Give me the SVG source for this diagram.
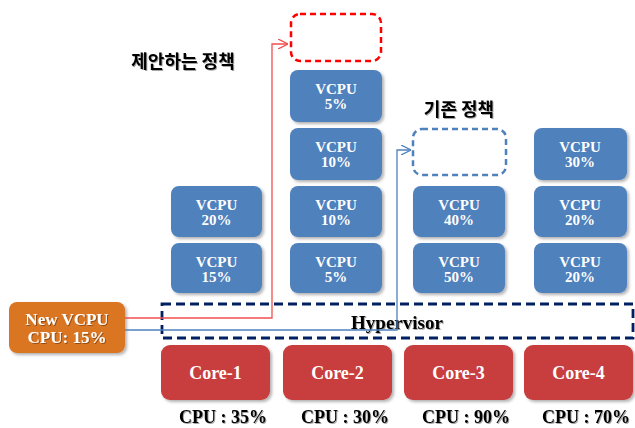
<svg xmlns="http://www.w3.org/2000/svg" width="635" height="428" viewBox="0 0 635 428">
<defs>
<filter id="sh" x="-10%" y="-10%" width="130%" height="140%"><feDropShadow dx="2" dy="2" stdDeviation="1.5" flood-color="#000" flood-opacity="0.3"/></filter>
<filter id="ts" x="-5%" y="-20%" width="110%" height="150%"><feDropShadow dx="1" dy="1" stdDeviation="0.6" flood-color="#000" flood-opacity="0.35"/></filter>
<marker id="ar" viewBox="0 0 10 10" refX="10" refY="5" markerWidth="10" markerHeight="10" markerUnits="userSpaceOnUse" orient="auto"><path d="M0,0 L10,5 L0,10" fill="none" stroke="#F05050" stroke-width="1.3"/></marker>
<marker id="ab" viewBox="0 0 10 10" refX="10" refY="5" markerWidth="10" markerHeight="10" markerUnits="userSpaceOnUse" orient="auto"><path d="M0,0 L10,5 L0,10" fill="none" stroke="#4F81BD" stroke-width="1.3"/></marker>
</defs>
<style>
.v{fill:#4F81BD;filter:url(#sh)}
.vt{font-family:"Liberation Serif",serif;font-weight:bold;font-size:15px;fill:#fff;text-anchor:middle}
.c{fill:#C83C3C;filter:url(#sh)}
.ct{font-family:"Liberation Serif",serif;font-weight:bold;font-size:18px;fill:#fff;text-anchor:middle}
.cl{font-family:"Liberation Serif",serif;font-weight:bold;font-size:18px;fill:#000;text-anchor:middle;filter:url(#ts)}
.kt{font-family:"Noto Sans CJK KR",sans-serif;font-weight:bold;font-size:18px;fill:#000;text-anchor:middle;filter:url(#ts)}
</style>
<rect width="635" height="428" fill="#fff"/>
<g id="label-proposed"><text class="kt" x="183" y="68">제안하는 정책</text></g>
<g id="label-existing"><text class="kt" x="459" y="116">기존 정책</text></g>
<g id="slot-proposed"><rect x="291" y="14" width="90" height="47" rx="9" fill="none" stroke="#FF0000" stroke-width="2.5" stroke-dasharray="6,4"/></g>
<g id="slot-existing"><rect x="413" y="129" width="93" height="46" rx="9" fill="none" stroke="#4F81BD" stroke-width="2.5" stroke-dasharray="6,4"/></g>
<g id="hypervisor"><rect x="162" y="304" width="471" height="34" fill="none" stroke="#002060" stroke-width="2.8" stroke-dasharray="9,5"/><text x="397" y="329" font-family="Liberation Serif,serif" font-weight="bold" font-size="19" text-anchor="middle" filter="url(#ts)">Hypervisor</text></g>
<g id="vcpu-1a"><rect class="v" x="171" y="186" width="91" height="51" rx="8"/><text class="vt" x="216.5" y="210">VCPU</text><text class="vt" x="216.5" y="225">20%</text></g>
<g id="vcpu-1b"><rect class="v" x="171" y="243" width="91" height="50" rx="8"/><text class="vt" x="216.5" y="267">VCPU</text><text class="vt" x="216.5" y="282">15%</text></g>
<g id="vcpu-2a"><rect class="v" x="290" y="70" width="92" height="52" rx="8"/><text class="vt" x="336" y="94">VCPU</text><text class="vt" x="336" y="109">5%</text></g>
<g id="vcpu-2b"><rect class="v" x="290" y="128" width="92" height="52" rx="8"/><text class="vt" x="336" y="152">VCPU</text><text class="vt" x="336" y="167">10%</text></g>
<g id="vcpu-2c"><rect class="v" x="290" y="186" width="92" height="51" rx="8"/><text class="vt" x="336" y="210">VCPU</text><text class="vt" x="336" y="225">10%</text></g>
<g id="vcpu-2d"><rect class="v" x="290" y="243" width="92" height="50" rx="8"/><text class="vt" x="336" y="267">VCPU</text><text class="vt" x="336" y="282">5%</text></g>
<g id="vcpu-3a"><rect class="v" x="413" y="186" width="92" height="51" rx="8"/><text class="vt" x="459" y="210">VCPU</text><text class="vt" x="459" y="225">40%</text></g>
<g id="vcpu-3b"><rect class="v" x="413" y="243" width="92" height="50" rx="8"/><text class="vt" x="459" y="267">VCPU</text><text class="vt" x="459" y="282">50%</text></g>
<g id="vcpu-4a"><rect class="v" x="534" y="128" width="93" height="52" rx="8"/><text class="vt" x="580" y="152">VCPU</text><text class="vt" x="580" y="167">30%</text></g>
<g id="vcpu-4b"><rect class="v" x="534" y="186" width="93" height="51" rx="8"/><text class="vt" x="580" y="210">VCPU</text><text class="vt" x="580" y="225">20%</text></g>
<g id="vcpu-4c"><rect class="v" x="534" y="243" width="93" height="50" rx="8"/><text class="vt" x="580" y="267">VCPU</text><text class="vt" x="580" y="282">20%</text></g>
<g id="new-vcpu"><rect x="9" y="302" width="116" height="51" rx="8" fill="#DA7420" filter="url(#sh)"/><text x="67" y="325" font-family="Liberation Serif,serif" font-weight="bold" font-size="17" fill="#fff" text-anchor="middle" filter="url(#ts)">New VCPU</text><text x="67" y="343" font-family="Liberation Serif,serif" font-weight="bold" font-size="17" fill="#fff" text-anchor="middle" filter="url(#ts)">CPU: 15%</text></g>
<g id="core-1"><rect class="c" x="161" y="345" width="109" height="55" rx="9"/><text class="ct" x="215.5" y="379">Core-1</text><text class="cl" x="223" y="423">CPU : 35%</text></g>
<g id="core-2"><rect class="c" x="283" y="345" width="109" height="55" rx="9"/><text class="ct" x="337.5" y="379">Core-2</text><text class="cl" x="345" y="423">CPU : 30%</text></g>
<g id="core-3"><rect class="c" x="404" y="345" width="109" height="55" rx="9"/><text class="ct" x="458.5" y="379">Core-3</text><text class="cl" x="466" y="423">CPU : 90%</text></g>
<g id="core-4"><rect class="c" x="524" y="345" width="109" height="55" rx="9"/><text class="ct" x="578.5" y="379">Core-4</text><text class="cl" x="586" y="423">CPU : 70%</text></g>
<g id="connectors" fill="none" stroke-width="1.3">
<polyline points="125,318 272,318 272,44 288,44" stroke="#F05050" marker-end="url(#ar)"/>
<polyline points="125,330 397,330 397,150 411,150" stroke="#4F81BD" marker-end="url(#ab)"/>
</g>
</svg>
